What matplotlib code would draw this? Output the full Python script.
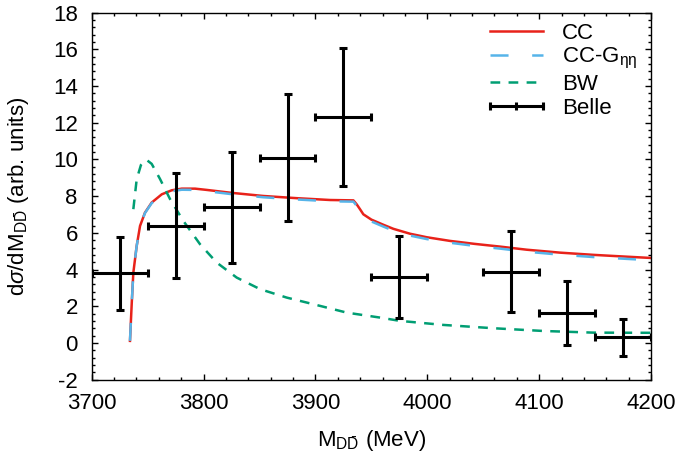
import numpy as np
import matplotlib
matplotlib.use("Agg")
import matplotlib.pyplot as plt
from matplotlib.lines import Line2D

plt.rcParams["font.family"] = ["Liberation Sans", "DejaVu Sans"]
plt.rcParams["mathtext.fontset"] = "custom"
plt.rcParams["mathtext.rm"] = "Liberation Sans"
plt.rcParams["mathtext.it"] = "Liberation Sans:italic"
plt.rcParams["axes.unicode_minus"] = False
plt.rcParams["lines.scale_dashes"] = False

# ── Belle data ────────────────────────────────────────────────
belle_m   = [3725, 3775, 3825, 3875, 3925, 3975, 4075, 4125, 4175]
belle_y   = [3.80, 6.40, 7.40, 10.10, 12.30, 3.60, 3.89, 1.62, 0.30]
belle_err = [2.00, 2.85, 3.03, 3.46, 3.77, 2.25, 2.22, 1.75, 1.03]
belle_bin = 25

# ── CC (red) ──────────────────────────────────────────────────
cc_m = [3734.2, 3735.8, 3737.2, 3740.2, 3743.2, 3747.6, 3753.6, 3762.6, 3771.5,
        3780.5, 3792.3, 3802.8, 3823.6, 3853.4, 3883.3, 3913.1, 3933.9, 3936.9,
        3939.9, 3942.8, 3950.0, 3960.7, 3969.6, 3984.6, 3999.5, 4020.3, 4042.0,
        4065.0, 4088.9, 4118.7, 4148.4, 4178.3, 4200.0]
cc_y = [0.11, 2.20, 3.83, 5.29, 6.38, 7.10, 7.65, 8.10, 8.32,
        8.41, 8.41, 8.34, 8.19, 8.01, 7.89, 7.79, 7.77, 7.55,
        7.28, 7.01, 6.72, 6.44, 6.22, 5.95, 5.76, 5.56, 5.40,
        5.25, 5.08, 4.92, 4.80, 4.70, 4.63]

# ── CC-G_eta-eta (light blue) ─────────────────────────────────
ccg_m = cc_m
ccg_y = [0.11, 2.20, 3.83, 5.29, 6.37, 7.08, 7.62, 8.06, 8.27,
         8.35, 8.34, 8.27, 8.12, 7.94, 7.82, 7.72, 7.70, 7.47,
         7.19, 6.91, 6.62, 6.34, 6.12, 5.85, 5.66, 5.46, 5.29,
         5.14, 4.97, 4.81, 4.68, 4.58, 4.51]

# ── BW (green) ────────────────────────────────────────────────
bw_m = [3737.2, 3740.2, 3744.0, 3747.6, 3749.2, 3753.6, 3761.1, 3770.0, 3781.9,
        3796.8, 3811.7, 3829.6, 3850.5, 3874.3, 3898.1, 3928.0, 3957.7, 3975.6,
        4014.3, 4059.0, 4103.7, 4148.4, 4200.0]
bw_y = [7.29, 8.92, 9.70, 9.97, 9.97, 9.76, 8.93, 7.84, 6.65,
        5.38, 4.38, 3.56, 2.93, 2.47, 2.11, 1.65, 1.38, 1.20,
        0.98, 0.80, 0.65, 0.56, 0.55]

fig = plt.figure(figsize=(6.85, 4.61), dpi=100)
ax = fig.add_axes([0.1339, 0.1766, 0.8166, 0.7958])

red, blue, green = "#e8221a", "#56b4e9", "#009e73"

ax.plot(cc_m, cc_y, color=red, lw=1.8, label="CC")
ax.plot(ccg_m, ccg_y, color=blue, lw=1.8, dashes=(13, 17), label=r"CC-G$_{\mathrm{ηη}}$")
ax.plot(bw_m, bw_y, color=green, lw=1.8, dashes=(7, 6), label="BW")
ax.errorbar(belle_m, belle_y, xerr=belle_bin, yerr=belle_err, fmt="none",
            ecolor="black", elinewidth=2.2, capsize=3, capthick=2.2)

ax.set_xlim(3700, 4200)
ax.set_ylim(-2, 18)
ax.set_xticks(np.arange(3700, 4201, 100))
ax.set_yticks(np.arange(-2, 19, 2))
ax.set_xticks(np.arange(3700, 4201, 20), minor=True)
ax.set_yticks(np.arange(-2, 18.01, 0.4), minor=True)
ax.tick_params(which="both", direction="in", top=True, right=True, labelsize=16,
               width=1.0)
ax.tick_params(axis="x", which="major", pad=10)
ax.tick_params(axis="y", which="major", pad=10)
ax.tick_params(which="major", length=4.5)
ax.tick_params(which="minor", length=2.3)
for s in ax.spines.values():
    s.set_linewidth(1.0)

ax.set_xlabel(r"M$_{\mathrm{D\bar{D}}}$ (MeV)", fontsize=16, labelpad=10)
ax.set_ylabel(r"d$\sigma$/dM$_{\mathrm{D\bar{D}}}$ (arb. units)", fontsize=16, labelpad=16)

belle_handle = Line2D([0], [0], color="black", lw=2.2, marker="|",
                      markersize=6, markeredgewidth=2.2)
handles, labels = ax.get_legend_handles_labels()
handles.append(belle_handle)
labels.append("Belle")
ax.legend(handles, labels, loc="upper right", frameon=False, fontsize=16,
          numpoints=3, handlelength=3.0, handletextpad=0.55, labelspacing=0.12,
          borderpad=0.2, borderaxespad=0.0, bbox_to_anchor=(0.983, 0.985))

plt.savefig("out.png", dpi=100)
